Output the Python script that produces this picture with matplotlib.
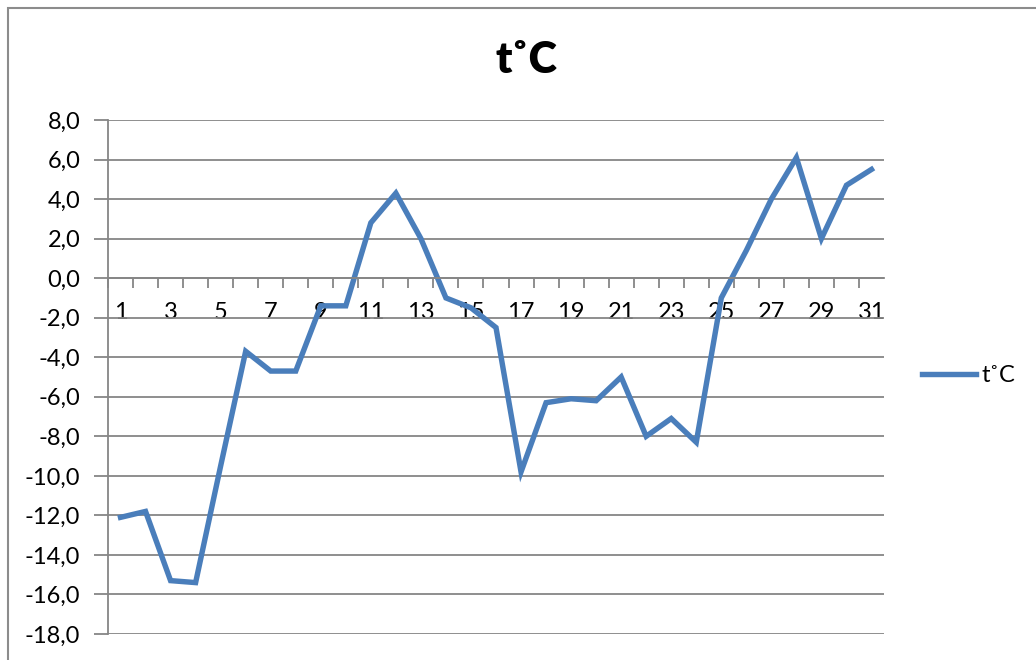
# Daily temperature line chart (Excel style)
import matplotlib
matplotlib.use("Agg")
import matplotlib.pyplot as plt
from matplotlib.patches import Rectangle

# Data
days = list(range(1, 32))
temps = [-12.1, -11.8, -15.3, -15.4, -9.5, -3.7, -4.7, -4.7, -1.4, -1.4,
         2.8, 4.3, 2.0, -1.0, -1.5, -2.5, -9.8, -6.3, -6.1, -6.2,
         -5.0, -8.0, -7.1, -8.3, -1.0, 1.4, 4.0, 6.1, 2.0, 4.7, 5.5]
series_name = "t˚C"
y_ticks = [8 - 2 * i for i in range(14)]
x_labels = list(range(1, 32, 2))

plt.rcParams["font.family"] = ["Lato", "DejaVu Sans"]

W, H = 1036, 660
fig = plt.figure(figsize=(W / 100, H / 100), dpi=100)

# outer chart frame
fig.patches.append(Rectangle((8 / W, -0.1), 1.2, 1 - 8 / H + 0.1,
                             transform=fig.transFigure, fill=False,
                             edgecolor="#8c8c8c", linewidth=1.5))

ax = fig.add_axes([108 / W, 1 - 634 / H, (884 - 108) / W, (634 - 120) / H])

ax.plot(days, temps, color="#4a7ebb", linewidth=3.9, label=series_name,
        solid_joinstyle="miter")

ax.set_xlim(0.5, 31.5)
ax.set_ylim(-18, 8)

# y axis
ax.set_yticks(y_ticks)
ax.set_yticklabels([f"{v:.1f}".replace(".", ",") for v in y_ticks])
ax.yaxis.grid(True, color="#868686", linewidth=1.3)
ax.tick_params(axis="y", length=10, width=1.3, color="#868686", pad=10,
               labelsize=17)

# x axis crossing at zero, ticks between categories
ax.spines["bottom"].set_position(("data", 0))
ax.set_xticks([d + 0.5 for d in range(0, 31)])
ax.set_xticklabels([])
ax.set_xticks(x_labels, minor=True)
ax.set_xticklabels([str(d) for d in x_labels], minor=True)
ax.tick_params(axis="x", which="major", length=7, width=1.3,
               color="#868686", direction="out")
ax.tick_params(axis="x", which="minor", length=0, pad=17, labelsize=17)

for s in ["top", "right"]:
    ax.spines[s].set_visible(False)
for s in ["left", "bottom"]:
    ax.spines[s].set_color("#868686")
    ax.spines[s].set_linewidth(1.3)
ax.set_axisbelow(True)

fig.text(526 / W, 1 - 60 / H, series_name, ha="center", va="center",
         fontsize=31, fontweight="heavy")

leg = ax.legend(loc="center left", bbox_to_anchor=(922 / W, 1 - 376 / H),
                bbox_transform=fig.transFigure, frameon=False, fontsize=17,
                handlelength=2.3, handletextpad=0.2, borderpad=0,
                borderaxespad=0)

fig.savefig("out.png", dpi=100)
